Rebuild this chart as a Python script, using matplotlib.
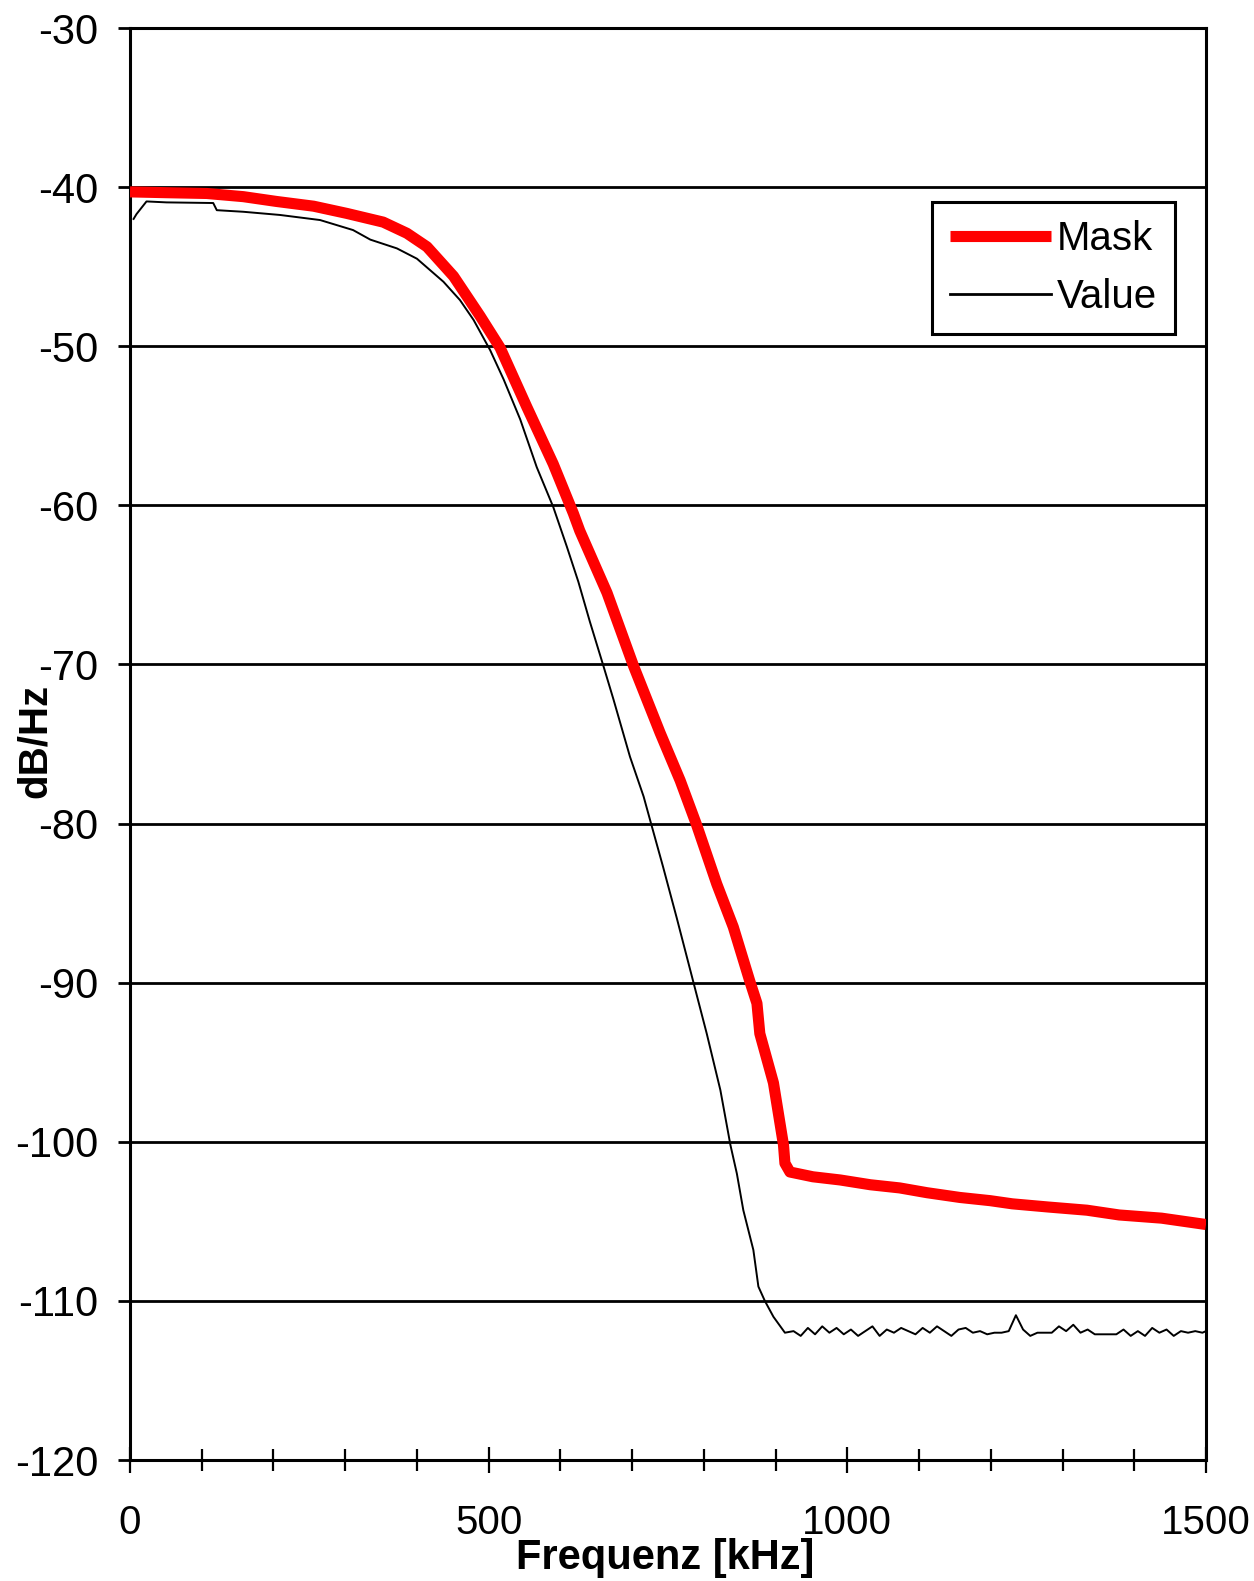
import matplotlib
matplotlib.use("Agg")
import matplotlib.pyplot as plt
from matplotlib import font_manager as fm
from matplotlib.ticker import MultipleLocator, FixedLocator

plt.rcParams["axes.unicode_minus"] = False

# ---------------- data ----------------
mask_freq = [0, 50, 107, 158, 204, 256, 302, 353, 386, 414, 451, 488, 516, 553, 590, 618, 627,
             665, 702, 739, 767, 790, 818, 841, 864, 874, 878, 897, 911, 913, 920, 952, 990,
             1032, 1073, 1111, 1157, 1199, 1230, 1280, 1334, 1379, 1438, 1500]
mask_db = [-40.3, -40.35, -40.4, -40.6, -40.9, -41.2, -41.65, -42.2, -42.9, -43.75, -45.6, -48.1,
           -50.1, -53.8, -57.4, -60.5, -61.6, -65.5, -70.1, -74.3, -77.3, -80.1, -83.8, -86.5,
           -89.9, -91.3, -93.2, -96.3, -100.2, -101.35, -101.9, -102.2, -102.4, -102.7, -102.9,
           -103.2, -103.5, -103.7, -103.9, -104.1, -104.3, -104.6, -104.8, -105.2]

value_freq = [5, 9, 23, 51, 116, 121, 158, 209, 265, 311, 335, 372, 400, 437, 460, 479, 502, 521,
              544, 567, 590, 609, 625, 641, 660, 674, 697, 716, 727, 743, 762, 785, 804, 823, 837,
              846, 855, 869, 876, 885, 897, 913]
value_db = [-42.0, -41.7, -40.9, -40.96, -41.0, -41.45, -41.55, -41.75, -42.07, -42.7, -43.3,
            -43.85, -44.5, -45.95, -47.1, -48.35, -50.24, -52.1, -54.6, -57.6, -60.1, -62.6,
            -64.8, -67.3, -70.1, -72.2, -75.8, -78.3, -80.1, -82.7, -85.9, -89.9, -93.2, -96.75,
            -100.2, -102.0, -104.3, -106.8, -109.1, -110.0, -111.0, -112.0]

floor_freq = list(range(925, 1500, 10)) + [1500]
floor_db = [-111.9, -112.2, -111.7, -112.1, -111.6, -112.0, -111.7, -112.1, -111.8, -112.2,
            -111.9, -111.6, -112.2, -111.8, -112.0, -111.7, -111.9, -112.1, -111.7, -112.0,
            -111.6, -111.9, -112.2, -111.8, -111.7, -112.0, -111.9, -112.1, -112.0, -112.0,
            -111.9, -110.9, -111.8, -112.2, -112.0, -112.0, -112.0, -111.6, -111.9, -111.5,
            -112.0, -111.8, -112.1, -112.1, -112.1, -112.1, -111.8, -112.2, -111.9, -112.2,
            -111.7, -112.0, -111.8, -112.2, -111.9, -112.0, -111.9, -112.0, -111.9]

series_labels = ["Mask", "Value"]
x_ticks = [0, 500, 1000, 1500]
y_ticks = [-120, -110, -100, -90, -80, -70, -60, -50, -40, -30]

# ---------------- fonts ----------------
avail = {f.name for f in fm.fontManager.ttflist}
narrow = "Liberation Sans Narrow" if "Liberation Sans Narrow" in avail else "Liberation Sans"
regular = "Liberation Sans"

fig = plt.figure(figsize=(12.54, 15.81), dpi=100)
ax = fig.add_axes([130 / 1254, 1 - 1460 / 1581, 1076 / 1254, 1432 / 1581])

vf = value_freq + floor_freq
vd = value_db + floor_db
ax.plot(mask_freq, mask_db, color="#ff0000", lw=8, solid_capstyle="butt",
        label=series_labels[0], zorder=3)
ax.plot(vf, vd, color="black", lw=1.4, label=series_labels[1], zorder=4)

ax.set_xlim(0, 1500)
ax.set_ylim(-120, -30)

ax.yaxis.set_major_locator(FixedLocator(y_ticks))
ax.xaxis.set_major_locator(FixedLocator(x_ticks))
ax.xaxis.set_minor_locator(MultipleLocator(100))
ax.grid(axis="y", color="black", lw=2.0)
ax.set_axisbelow(True)

for s in ax.spines.values():
    s.set_linewidth(2.2)
    s.set_color("black")

ax.tick_params(axis="y", direction="out", length=9, width=2.0, pad=14,
               labelsize=30, left=True, right=False)
ax.tick_params(axis="x", which="major", direction="inout", length=19, width=1.6, pad=22,
               labelsize=29)
ax.tick_params(axis="x", which="minor", direction="inout", length=16, width=1.6)
for lab in ax.get_yticklabels():
    lab.set_fontfamily(regular)
for lab in ax.get_xticklabels():
    lab.set_fontfamily(narrow)

fig.text(35 / 1254, 1 - 741 / 1581, "dB/Hz", rotation=90, ha="center", va="center",
         fontsize=29, fontweight="bold", family=regular)
fig.text(665 / 1254, 3 / 1581, "Frequenz [kHz]", ha="center", va="bottom",
         fontsize=30, fontweight="bold", family=narrow)

leg = ax.legend(loc="upper left", bbox_to_anchor=(932 / 1254, 1 - 202 / 1581),
                bbox_transform=fig.transFigure, frameon=True, fancybox=False,
                handlelength=2.5, handletextpad=0.15, labelspacing=0.5,
                borderpad=0.45, borderaxespad=0.0, prop={"family": narrow, "size": 29})
leg.get_frame().set_edgecolor("black")
leg.get_frame().set_linewidth(2.2)
leg.get_frame().set_alpha(1)
leg.get_lines()[1].set_linewidth(2.0)

fig.savefig("out.png", dpi=100, facecolor="white")
